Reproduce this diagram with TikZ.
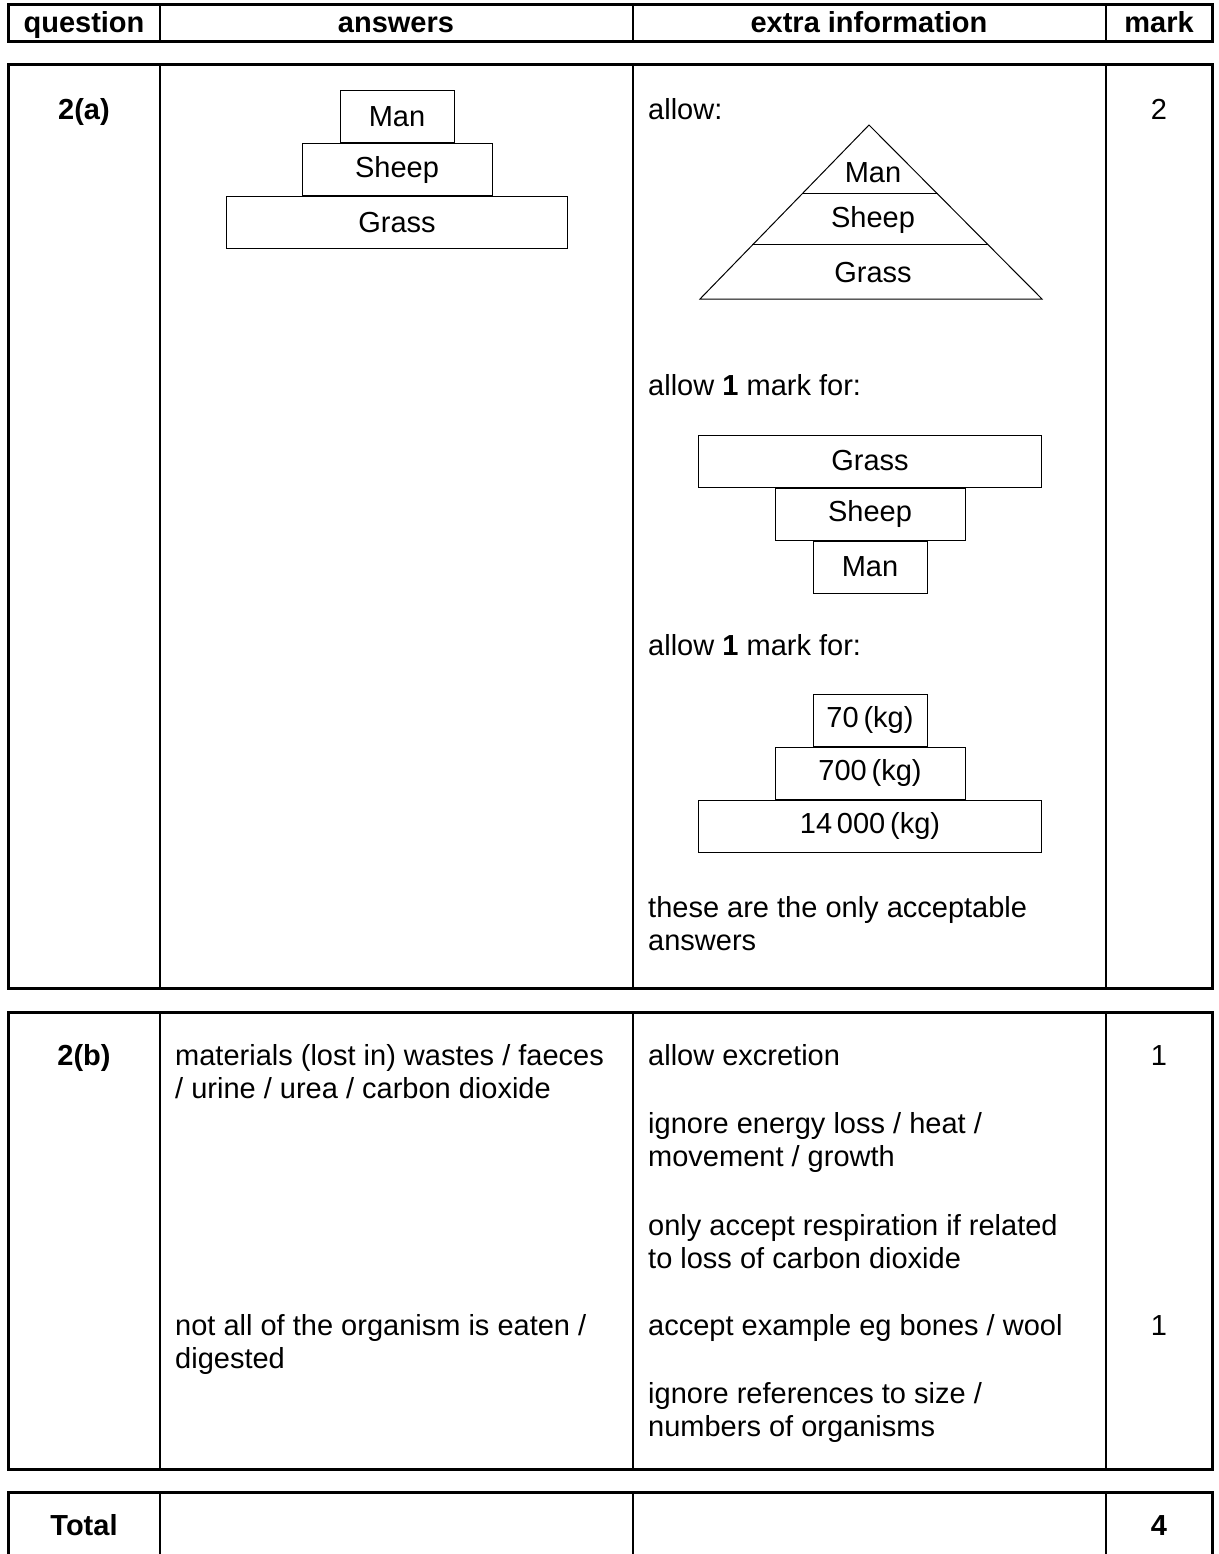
\documentclass[tikz,border=0pt]{standalone}
\usepackage{fontspec}
\setmainfont{Liberation Sans}
\usetikzlibrary{math,positioning}

\newcommand{\msfont}{\fontsize{29}{33}\selectfont}

\tikzset{
  txt/.style={anchor=base west, inner sep=0pt, align=left, font=\msfont},
  head/.style={anchor=base, inner sep=0pt, font=\msfont\bfseries},
  level/.style={draw, line width=1pt, inner sep=0pt, minimum height=52, font=\msfont},
  frame/.style={line width=3pt},
  rule/.style={line width=1.5pt},
}

\begin{document}
\begin{tikzpicture}[x=1pt, y=-1pt]
  \useasboundingbox (0,0) rectangle (1218,1554);
  \tikzmath{%
    \ax = 869; \ay = 125; \lx = 700; \rx = 1042; \by = 299;
    \ya = 194; \yb = 245;
    \ta = (\ya - \ay)/(\by - \ay); \tb = (\yb - \ay)/(\by - \ay);
    \lxa = \ax - \ta*(\ax - \lx); \rxa = \ax + \ta*(\rx - \ax);
    \lxb = \ax - \tb*(\ax - \lx); \rxb = \ax + \tb*(\rx - \ax);
  }

  % table frames
  \draw[frame] (8,5) rectangle (1212,42);
  \draw[frame] (8,65) rectangle (1212,988);
  \draw[frame] (8,1012) rectangle (1212,1469);
  \draw[frame] (8,1554) -- (8,1492) -- (1212,1492) -- (1212,1554);
  \foreach \cx in {160,633,1106} {
    \draw[rule] (\cx,5) -- (\cx,42);
    \draw[rule] (\cx,65) -- (\cx,988);
    \draw[rule] (\cx,1012) -- (\cx,1469);
    \draw[rule] (\cx,1492) -- (\cx,1554);
  }

  % header
  \node[head] (hq) at (84,33) {question};
  \node[head] (ha) at (396,33) {answers};
  \node[head] (he) at (869,33) {extra information};
  \node[head] (hm) at (1159,33) {mark};

  % 2(a)
  \node[head] (qa) at (84,120) {2(a)};
  \node[head, font=\msfont] (ma) at (1159,120) {2};
  \node[level, minimum width=114] (man) at (397,117) {Man};
  \node[level, minimum width=190, below=0pt of man] (sheep) {Sheep};
  \node[level, minimum width=341, below=0pt of sheep] (grass) {Grass};

  \node[txt] (allow) at (648,120) {allow:};
  \draw[line width=1pt] (\lx,\by) -- (\ax,\ay) -- (\rx,\by) -- cycle;
  \draw[line width=1pt] (\lxa,\ya) -- (\rxa,\ya);
  \draw[line width=1pt] (\lxb,\yb) -- (\rxb,\yb);
  \node[font=\msfont] (tman) at (873,173) {Man};
  \node[font=\msfont] (tsheep) at (873,220) {Sheep};
  \node[font=\msfont] (tgrass) at (873,273) {Grass};

  \node[txt] (allowa) at (648,395) {allow \textbf{1} mark for:};
  \node[level, minimum width=343] (igrass) at (870,461) {Grass};
  \node[level, minimum width=190, below=0pt of igrass] (isheep) {Sheep};
  \node[level, minimum width=114, below=0pt of isheep] (iman) {Man};

  \node[txt] (allowb) at (648,655) {allow \textbf{1} mark for:};
  \node[level, minimum width=114] (kga) at (870,720) {70\,(kg)};
  \node[level, minimum width=190, below=0pt of kga] (kgb) {700\,(kg)};
  \node[level, minimum width=343, below=0pt of kgb] (kgc) {14\,000\,(kg)};

  % two-line texts sit on the baseline of their last line
  \node[txt] (only) at (648,950) {these are the only acceptable\\answers};

  % 2(b)
  \node[head] (qb) at (84,1065) {2(b)};
  \node[txt] (mat) at (175,1098) {materials (lost in) wastes / faeces\\/ urine / urea / carbon dioxide};
  \node[txt] (notall) at (175,1368) {not all of the organism is eaten /\\digested};
  \node[txt] (excr) at (648,1065) {allow excretion};
  \node[txt] (ign) at (648,1166) {ignore energy loss / heat /\\movement / growth};
  \node[txt] (resp) at (648,1268) {only accept respiration if related\\to loss of carbon dioxide};
  \node[txt] (bones) at (648,1335) {accept example eg bones / wool};
  \node[txt] (size) at (648,1436) {ignore references to size /\\numbers of organisms};
  \node[head, font=\msfont] (mba) at (1159,1065) {1};
  \node[head, font=\msfont] (mbb) at (1159,1335) {1};

  % total
  \node[head] (tot) at (84,1535) {Total};
  \node[head] (totm) at (1159,1535) {4};
\end{tikzpicture}
\end{document}
